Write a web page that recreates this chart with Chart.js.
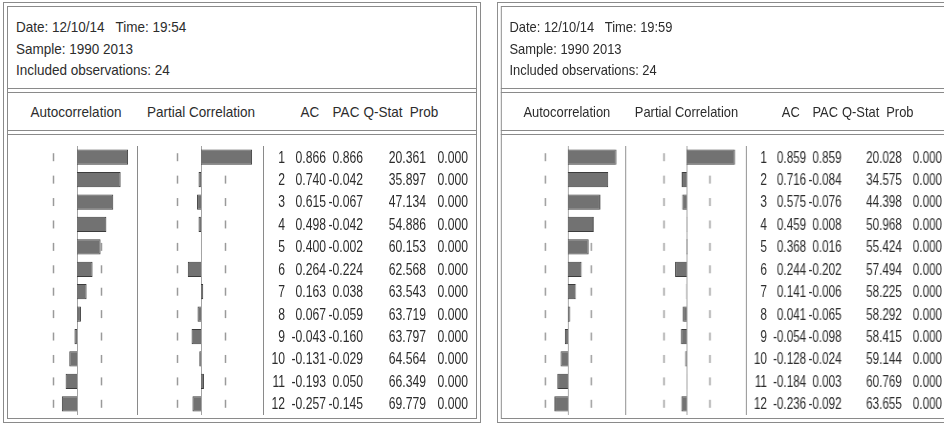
<!DOCTYPE html>
<html>
<head>
<meta charset="utf-8">
<script src="https://cdn.jsdelivr.net/npm/chart.js@4.4.1/dist/chart.umd.min.js"></script>
<style>
  html, body { margin: 0; padding: 0; background: #fff; }
  body { width: 944px; height: 425px; overflow: hidden; position: relative;
         font-family: "Liberation Sans", Arial, sans-serif; color: #2c2c2c; }
  .panel { position: absolute; top: 2px; width: 478px; height: 421px; transform-origin: 0 0; }
  .box { position: absolute; box-sizing: border-box; border: 1px solid #8a8a8a; }
  .hline { position: absolute; left: 4px; width: 470px; height: 1px; background: #8a8a8a; }
  .info { position: absolute; left: 13px; top: 14px; font-size: 15px; line-height: 21.5px;
          white-space: nowrap; transform: scaleX(0.9); transform-origin: 0 0; }
  .colhead { position: absolute; top: 101px; font-size: 15px; line-height: 18px;
             white-space: nowrap; transform: translateX(-50%) scaleX(0.9); }
  canvas { position: absolute; }
</style>
</head>
<body>
<div class="panel" id="left" style="left:3px"></div>
<div class="panel" id="right" style="left:497px; transform:scaleX(0.957)"></div>

<script>
// correlogram values
const lags = [1, 2, 3, 4, 5, 6, 7, 8, 9, 10, 11, 12];
const observations = 24;

const acLeft  = [0.866, 0.740, 0.615, 0.498, 0.400, 0.264, 0.163, 0.067, -0.043, -0.131, -0.193, -0.257];
const pacLeft = [0.866, -0.042, -0.067, -0.042, -0.002, -0.224, 0.038, -0.059, -0.160, -0.029, 0.050, -0.145];
const qLeft   = [20.361, 35.897, 47.134, 54.886, 60.153, 62.568, 63.543, 63.719, 63.797, 64.564, 66.349, 69.779];
const probLeft = [0, 0, 0, 0, 0, 0, 0, 0, 0, 0, 0, 0];

const acRight  = [0.859, 0.716, 0.575, 0.459, 0.368, 0.244, 0.141, 0.041, -0.054, -0.128, -0.184, -0.236];
const pacRight = [0.859, -0.084, -0.076, 0.008, 0.016, -0.202, -0.006, -0.065, -0.098, -0.024, 0.003, -0.092];
const qRight   = [20.028, 34.575, 44.398, 50.968, 55.424, 57.494, 58.225, 58.292, 58.415, 59.144, 60.769, 63.655];
const probRight = [0, 0, 0, 0, 0, 0, 0, 0, 0, 0, 0, 0];

const infoLeft  = ['Date: 12/10/14\u00a0\u00a0 Time: 19:54', 'Sample: 1990 2013', 'Included observations: 24'];
const infoRight = ['Date: 12/10/14\u00a0\u00a0 Time: 19:59', 'Sample: 1990 2013', 'Included observations: 24'];
const columnTitles = ['Autocorrelation', 'Partial Correlation', 'AC', 'PAC', 'Q-Stat', 'Prob'];

const FONT = '16px "Liberation Sans", Arial, sans-serif';

// zero line + dashed +-2/sqrt(T) band marks, per row
const bandPlugin = {
  id: 'bands',
  beforeDatasetsDraw(chart) {
    const { ctx, chartArea, scales: { x, y } } = chart;
    const band = 2 / Math.sqrt(observations);
    ctx.save();
    ctx.strokeStyle = '#a4a4a4';
    ctx.lineWidth = 1;
    const x0 = Math.round(x.getPixelForValue(0)) + 0.5;
    ctx.beginPath();
    ctx.moveTo(x0, chartArea.top);
    ctx.lineTo(x0, chartArea.bottom);
    ctx.stroke();
    ctx.strokeStyle = '#9a9a9a';
    ctx.lineWidth = 1.5;
    [-band, band].forEach(v => {
      const px = Math.round(x.getPixelForValue(v)) + 0.5;
      chart.data.labels.forEach((_, i) => {
        const cy = y.getPixelForValue(i);
        ctx.beginPath();
        ctx.moveTo(px, cy - 4);
        ctx.lineTo(px, cy + 4);
        ctx.stroke();
      });
    });
    ctx.restore();
  }
};

// column dividers and the numeric table, rows taken from the y scale
const tablePlugin = {
  id: 'table',
  afterDraw(chart) {
    const cols = chart.options.plugins.table;
    if (!cols) return;
    const { ctx, chartArea, scales: { y } } = chart;
    ctx.save();
    ctx.strokeStyle = '#8a8a8a';
    ctx.lineWidth = 1;
    [chartArea.left - 5, chartArea.right + 3].forEach(px => {
      ctx.beginPath();
      ctx.moveTo(Math.round(px) + 0.5, chartArea.top - 1);
      ctx.lineTo(Math.round(px) + 0.5, chartArea.bottom + 1);
      ctx.stroke();
    });
    ctx.fillStyle = '#2c2c2c';
    ctx.font = FONT;
    ctx.textAlign = 'right';
    ctx.textBaseline = 'middle';
    cols.rows.forEach((row, i) => {
      const cy = y.getPixelForValue(i) + 1;
      row.forEach((txt, j) => {
        ctx.save();
        ctx.translate(chartArea.right + cols.offsets[j], cy);
        ctx.scale(0.76, 1);
        ctx.fillText(txt, 0, 0);
        ctx.restore();
      });
    });
    ctx.restore();
  }
};

function barChart(canvas, values, padding, table) {
  return new Chart(canvas.getContext('2d'), {
    type: 'bar',
    data: {
      labels: lags.map(String),
      datasets: [{
        data: values,
        backgroundColor: '#727272',
        borderColor: '#3c3c3c',
        borderWidth: 1,
        barPercentage: 0.68,
        categoryPercentage: 1.0
      }]
    },
    options: {
      indexAxis: 'y',
      responsive: false,
      animation: false,
      devicePixelRatio: 1,
      layout: { padding },
      scales: {
        x: { type: 'linear', min: -1, max: 1, display: false },
        y: { display: false }
      },
      plugins: { legend: { display: false }, tooltip: { enabled: false }, table }
    },
    plugins: [bandPlugin, tablePlugin]
  });
}

function addDiv(parent, cls, style, text) {
  const d = document.createElement('div');
  d.className = cls;
  d.setAttribute('style', style);
  if (text !== undefined) d.textContent = text;
  parent.appendChild(d);
  return d;
}

function buildPanel(id, info, ac, pac, q, prob) {
  const el = document.getElementById(id);
  addDiv(el, 'box', 'left:0;top:0;width:478px;height:421px');
  addDiv(el, 'box', 'left:4px;top:4px;width:470px;height:413px');
  [86, 90, 128, 132].forEach(t => addDiv(el, 'hline', 'top:' + t + 'px'));

  const infoDiv = addDiv(el, 'info', '');
  info.forEach(line => addDiv(infoDiv, '', 'position:relative', line));

  const centers = [73, 197.5, 307, 342.5, 380, 420.5];
  columnTitles.forEach((t, i) => addDiv(el, 'colhead', 'left:' + centers[i] + 'px', t));

  const cAc = document.createElement('canvas');
  cAc.width = 118; cAc.height = 269;
  cAc.style.left = '15px'; cAc.style.top = '144px';
  el.appendChild(cAc);

  const cPac = document.createElement('canvas');
  cPac.width = 340; cPac.height = 269;
  cPac.style.left = '133px'; cPac.style.top = '144px';
  el.appendChild(cPac);

  barChart(cAc, ac, 0, null);
  barChart(cPac, pac, { left: 6, right: 216, top: 0, bottom: 0 }, {
    offsets: [25, 66, 103, 166, 208],
    rows: lags.map((lag, i) => [
      String(lag), ac[i].toFixed(3), pac[i].toFixed(3), q[i].toFixed(3), prob[i].toFixed(3)
    ])
  });
}

buildPanel('left', infoLeft, acLeft, pacLeft, qLeft, probLeft);
buildPanel('right', infoRight, acRight, pacRight, qRight, probRight);
</script>
</body>
</html>
